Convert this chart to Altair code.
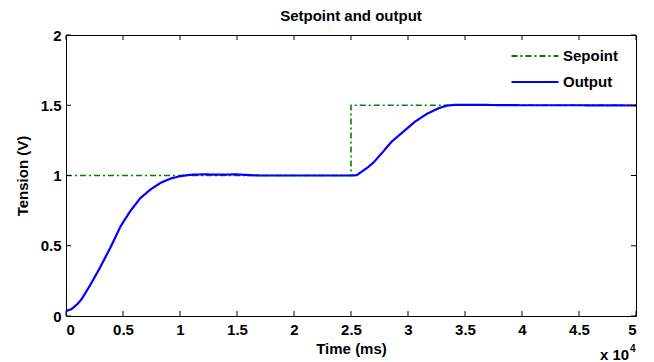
import altair as alt
import pandas as pd

# Time in units of 10^4 ms
sp_t = [0, 2.5, 2.5, 5.0]
sp_v = [1.0, 1.0, 1.5, 1.5]

out_t = [0, 0.05, 0.1, 0.14, 0.21, 0.3, 0.39, 0.48, 0.565, 0.65, 0.74, 0.83, 0.92, 1.0,
         1.09, 1.2, 1.35, 1.5, 1.6, 1.7, 2.0, 2.5, 2.55, 2.594, 2.65, 2.696, 2.769, 2.857,
         2.959, 3.061, 3.164, 3.266, 3.34, 3.4, 3.7, 4.0, 4.5, 5.0]
out_v = [0.035, 0.05, 0.085, 0.123, 0.217, 0.347, 0.488, 0.64, 0.748, 0.837, 0.9, 0.948, 0.979, 0.995,
         1.005, 1.008, 1.006, 1.008, 1.003, 1.0, 1.0, 1.0, 1.002, 1.027, 1.06, 1.091, 1.158, 1.241,
         1.312, 1.383, 1.438, 1.478, 1.497, 1.502, 1.502, 1.5, 1.5, 1.498]

x_ticks = [0, 0.5, 1, 1.5, 2, 2.5, 3, 3.5, 4, 4.5, 5]
y_ticks = [0, 0.5, 1, 1.5, 2]

series = ["Sepoint", "Output"]
colors = ["#008000", "#0000ff"]
dashes = [[6, 3, 2, 3], [1, 0]]

W, H = 570, 281
FONT = "Liberation Sans"

sp_df = pd.DataFrame({"t": sp_t, "v": sp_v, "series": "Sepoint"})
out_df = pd.DataFrame({"t": out_t, "v": out_v, "series": "Output"})
xt_df = pd.DataFrame({"t": x_ticks})
yt_df = pd.DataFrame({"v": y_ticks})

xscale = alt.Scale(domain=[0, 5], nice=False, zero=False)
yscale = alt.Scale(domain=[0, 2], nice=False, zero=False)

def mk_legend():
    return alt.Legend(title=None, orient="none", legendX=456, legendY=8,
                      symbolType="M-2,0H2", symbolSize=552, symbolStrokeWidth=2,
                      labelFont=FONT, labelFontSize=15, labelFontWeight="bold",
                      labelColor="black", rowPadding=5, labelOffset=15)

color = alt.Color("series:N", scale=alt.Scale(domain=series, range=colors), legend=mk_legend())
dash = alt.StrokeDash("series:N", scale=alt.Scale(domain=series, range=dashes), legend=mk_legend())

xaxis = alt.Axis(values=x_ticks, format="~g", ticks=False, domain=False, grid=False,
                 title="Time (ms)", labelPadding=6, titlePadding=4)
yaxis = alt.Axis(values=y_ticks, format="~g", ticks=False, domain=False, grid=False,
                 title="Tension (V)", labelPadding=5, titlePadding=10)

sp_line = alt.Chart(sp_df).mark_line(strokeWidth=1.6).encode(
    x=alt.X("t:Q", scale=xscale, axis=xaxis),
    y=alt.Y("v:Q", scale=yscale, axis=yaxis),
    color=color, strokeDash=dash, order=alt.Order("idx:Q"),
).transform_window(idx="row_number()")

out_line = alt.Chart(out_df).mark_line(strokeWidth=2.2).encode(
    x=alt.X("t:Q", scale=xscale),
    y=alt.Y("v:Q", scale=yscale),
    color=color, strokeDash=dash,
)

tick_bot = alt.Chart(xt_df).mark_rule(color="black", strokeWidth=1).encode(
    x=alt.X("t:Q", scale=xscale), y=alt.value(H), y2=alt.value(H - 5))
tick_top = alt.Chart(xt_df).mark_rule(color="black", strokeWidth=1).encode(
    x=alt.X("t:Q", scale=xscale), y=alt.value(0), y2=alt.value(5))
tick_left = alt.Chart(yt_df).mark_rule(color="black", strokeWidth=1).encode(
    y=alt.Y("v:Q", scale=yscale), x=alt.value(0), x2=alt.value(5))
tick_right = alt.Chart(yt_df).mark_rule(color="black", strokeWidth=1).encode(
    y=alt.Y("v:Q", scale=yscale), x=alt.value(W), x2=alt.value(W - 5))

exp_df = pd.DataFrame({"txt": ["x 10"], "sup": ["4"]})
exp_base = alt.Chart(exp_df).mark_text(font=FONT, fontSize=15, fontWeight="bold",
                                       align="left", baseline="alphabetic", color="black").encode(
    text="txt:N", x=alt.value(W - 36), y=alt.value(H + 44))
exp_sup = alt.Chart(exp_df).mark_text(font=FONT, fontSize=10, fontWeight="bold",
                                      align="left", baseline="alphabetic", color="black").encode(
    text="sup:N", x=alt.value(W - 6), y=alt.value(H + 36))

chart = alt.layer(
    sp_line, out_line, tick_bot, tick_top, tick_left, tick_right, exp_base, exp_sup
).properties(
    width=W, height=H,
    title=alt.TitleParams("Setpoint and output", font=FONT, fontSize=15, fontWeight="bold",
                          color="black", offset=4),
    autosize=alt.AutoSizeParams(type="none"),
    padding={"left": 58, "top": 27, "right": 10, "bottom": 46},
    background="white",
).configure_view(
    stroke="black", strokeWidth=1
).configure_axis(
    labelFont=FONT, labelFontSize=15, labelFontWeight="bold", labelColor="black",
    titleFont=FONT, titleFontSize=15, titleFontWeight="bold", titleColor="black",
)

chart.save("out.html", embed_options={"renderer": "svg", "actions": False})
